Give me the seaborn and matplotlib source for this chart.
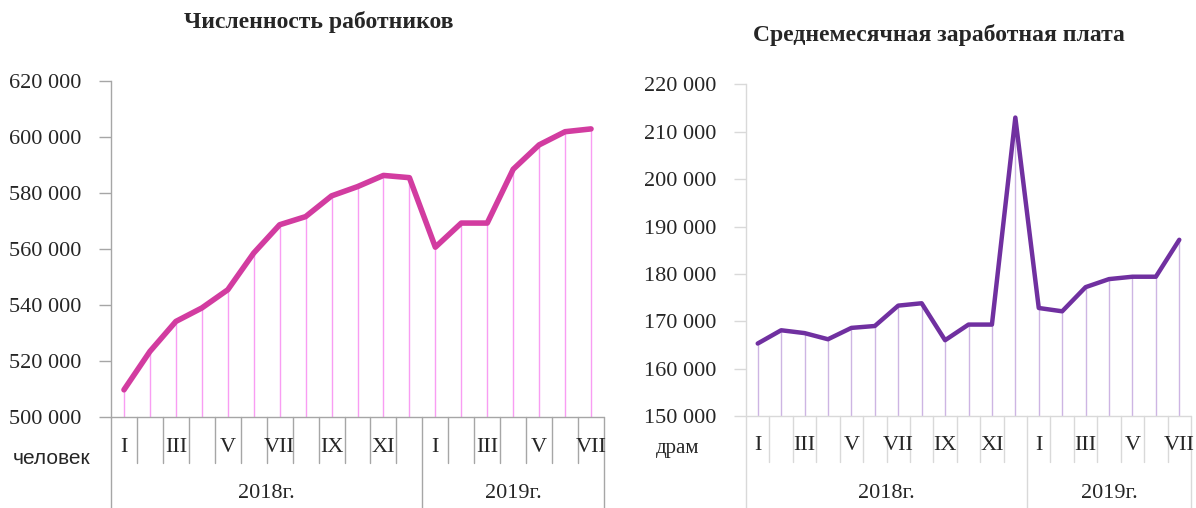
import numpy as np
import pandas as pd
import seaborn as sns
import matplotlib.pyplot as plt

# data
months = ["I", "II", "III", "IV", "V", "VI", "VII", "VIII", "IX", "X", "XI", "XII",
          "I", "II", "III", "IV", "V", "VI", "VII"]
month_labels = ["I", "", "III", "", "V", "", "VII", "", "IX", "", "XI", "",
                "I", "", "III", "", "V", "", "VII"]
years = ["2018г.", "2019г."]
year_counts = [12, 7]

workers = [509700, 523400, 534100, 538900, 545400, 558500, 568600, 571500, 578900,
           582200, 586200, 585400, 560600, 569200, 569200, 588400, 597100, 601800, 602800]
wages = [165300, 168100, 167500, 166200, 168600, 169000, 173300, 173800, 166000,
         169300, 169300, 213000, 172800, 172100, 177200, 178900, 179400, 179400, 187200]

sns.set_style("white")
plt.rcParams['font.family'] = ['Liberation Serif', 'DejaVu Serif']

W, H = 1196, 508
fig = plt.figure(figsize=(W / 100, H / 100), dpi=100)


def make_panel(rect_px, values, ylim, yticks, color, drop_color, grid_color, lw,
               title, title_xy, unit, unit_xy, unit_font):
    x0, y0, x1, y1 = rect_px  # left, top, right, bottom in pixels
    ax = fig.add_axes([x0 / W, (H - y1) / H, (x1 - x0) / W, (y1 - y0) / H])
    df = pd.DataFrame({"pos": np.arange(len(values)), "val": values})
    ax.set_xlim(-0.5, len(values) - 0.5)
    ax.set_ylim(*ylim)
    ax.vlines(df["pos"], ylim[0], df["val"], color=drop_color, lw=1.0, zorder=1)
    sns.lineplot(data=df, x="pos", y="val", ax=ax, color=color, lw=lw,
                 solid_capstyle="round", solid_joinstyle="round", zorder=3)
    ax.set_xlabel("")
    ax.set_ylabel("")
    for s in ["top", "right", "bottom"]:
        ax.spines[s].set_visible(False)
    ax.spines["left"].set_color(grid_color)
    ax.spines["left"].set_linewidth(1.0)
    ax.set_yticks(yticks)
    ax.set_yticklabels([f"{v:,}".replace(",", " ") for v in yticks], fontsize=16)
    ax.tick_params(axis="y", length=9, width=1, color=grid_color, pad=12, left=True)
    ax.set_xticks([])

    # category axis below the plot
    hpx = y1 - y0
    def ay(px):
        return -px / hpx
    tr = ax.get_xaxis_transform()
    n = len(values)
    ax.plot([-0.5, n - 0.5], [0, 0], transform=tr, color=grid_color, lw=1.0, clip_on=False)
    bounds = np.cumsum([0] + year_counts) - 0.5
    for b in np.arange(-0.5, n, 1.0):
        if b in bounds:
            ax.plot([b, b], [0, ay(H - y1 + 2)], transform=tr, color=grid_color, lw=1.0, clip_on=False)
        else:
            ax.plot([b, b], [0, ay(46)], transform=tr, color=grid_color, lw=1.0, clip_on=False)
    for i, lab in enumerate(month_labels):
        ax.text(i, ay(30), lab, transform=tr, ha="center", va="center", fontsize=16)
    for k, yr in enumerate(years):
        ax.text((bounds[k] + bounds[k + 1]) / 2, ay(77), yr, transform=tr,
                ha="center", va="center", fontsize=16)
    fig.text(title_xy[0] / W, 1 - title_xy[1] / H, title, ha="center", va="center",
             fontsize=17, fontweight="bold")
    fig.text(unit_xy[0] / W, 1 - unit_xy[1] / H, unit, ha="center", va="center",
             fontsize=15, family=unit_font)
    return ax


make_panel((111, 80.7, 604, 417), workers, (500000, 620000),
           list(range(500000, 620001, 20000)), "#d23ca0", "#f99df3", "#a6a6a6", 4.0,
           "Численность работников", (319, 22), "человек", (52, 458),
           ["Liberation Sans", "DejaVu Sans"])
make_panel((746, 84.4, 1191, 416), wages, (150000, 220000),
           list(range(150000, 220001, 10000)), "#7030a0", "#cdb5e3", "#d9d9d9", 3.2,
           "Среднемесячная заработная плата", (939, 35), "драм", (678, 448),
           ["Liberation Serif", "DejaVu Serif"])

fig.savefig("out.png", dpi=100)
